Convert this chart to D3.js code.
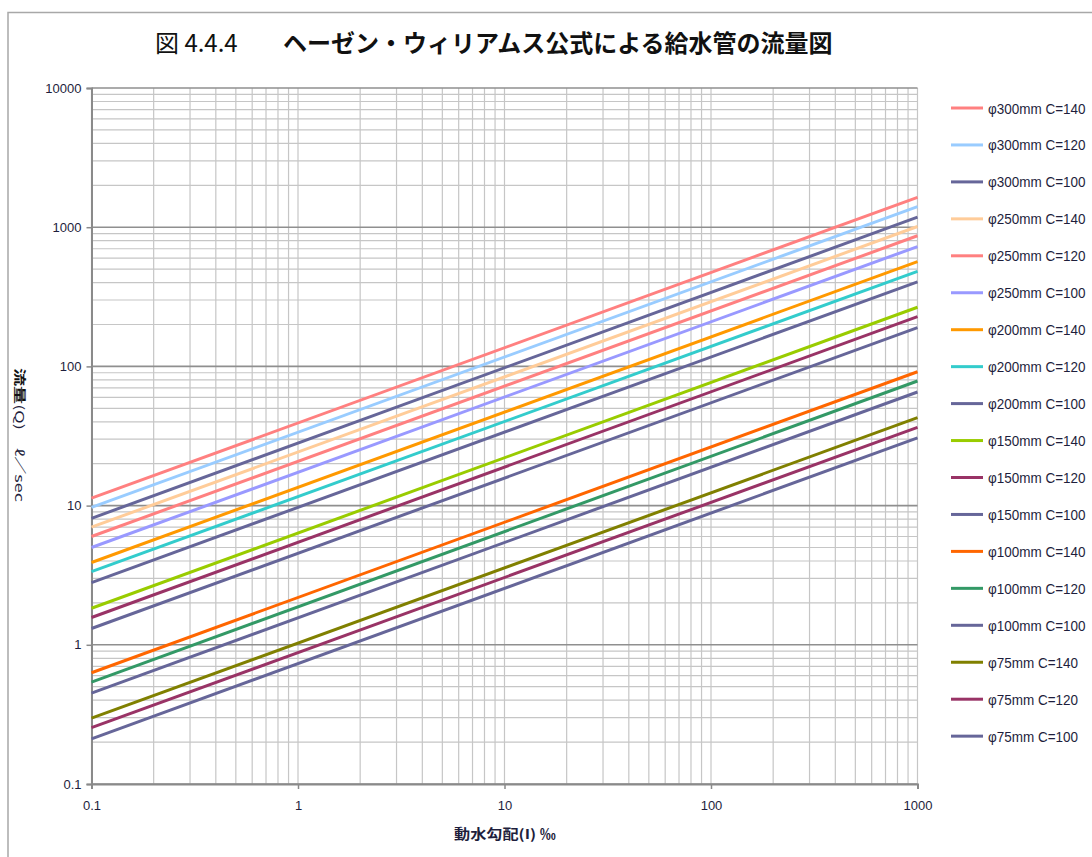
<!DOCTYPE html>
<html>
<head>
<meta charset="utf-8">
<script src="https://cdn.jsdelivr.net/npm/d3@7"></script>
<style>
  html, body { margin: 0; padding: 0; background: #ffffff; }
  svg { display: block; }
</style>
</head>
<body>
<svg id="chart" width="1092" height="857"></svg>
<script>
// Hydraulic gradient (‰) at the two ends of every flow line
const gradientEnds = [0.1, 1000];

// Series labels (pipe diameter and Hazen-Williams coefficient)
const seriesNames = [
  "φ300mm C=140", "φ300mm C=120", "φ300mm C=100",
  "φ250mm C=140", "φ250mm C=120", "φ250mm C=100",
  "φ200mm C=140", "φ200mm C=120", "φ200mm C=100",
  "φ150mm C=140", "φ150mm C=120", "φ150mm C=100",
  "φ100mm C=140", "φ100mm C=120", "φ100mm C=100",
  "φ75mm C=140", "φ75mm C=120", "φ75mm C=100"
];

// Flow (ℓ/sec) at gradient 0.1‰
const flowAtLow = [
  11.3, 9.7, 8.1,
  7.0, 6.0, 5.0,
  3.9, 3.35, 2.8,
  1.83, 1.57, 1.31,
  0.63, 0.54, 0.45,
  0.297, 0.254, 0.211
];

// Flow (ℓ/sec) at gradient 1000‰
const flowAtHigh = [
  1640, 1406, 1180,
  1012, 868, 726,
  566, 482, 405,
  266, 228, 190,
  91.5, 78.5, 65.5,
  42.8, 36.5, 30.7
];

const seriesColors = [
  "#ff8080", "#99ccff", "#666699",
  "#ffcc99", "#ff8080", "#9999ff",
  "#ff9900", "#33cccc", "#666699",
  "#99cc00", "#993366", "#666699",
  "#ff6600", "#339966", "#666699",
  "#808000", "#993366", "#666699"
];

// Axis tick labels
const xTickValues = [0.1, 1, 10, 100, 1000];
const xTickLabels = ["0.1", "1", "10", "100", "1000"];
const yTickValues = [0.1, 1, 10, 100, 1000, 10000];
const yTickLabels = ["0.1", "1", "10", "100", "1000", "10000"];

const svg = d3.select("#chart");
const plot = { left: 91.5, right: 917.5, top: 88, bottom: 784 };

const x = d3.scaleLog().domain([0.1, 1000]).range([plot.left, plot.right]);
const y = d3.scaleLog().domain([0.1, 10000]).range([plot.bottom, plot.top]);

const labelFont = "'Liberation Sans', Arial, sans-serif";
const cjkFont = "'Noto Sans CJK JP', 'Noto Sans', sans-serif";
const textColor = "#1e1e3c";

// Outer frame
svg.append("path")
  .attr("d", "M8,870 L8,12.5 L1100,12.5")
  .attr("fill", "none")
  .attr("stroke", "#a8a8a8")
  .attr("stroke-width", 1.5);

// Title
const title = svg.append("text")
  .attr("x", 155).attr("y", 52)
  .attr("font-family", cjkFont)
  .attr("font-size", 24)
  .attr("fill", "#111");
title.append("tspan").attr("font-weight", 400).text("図 4.4.4");
title.append("tspan").attr("x", 283).attr("font-weight", 700)
  .text("ヘーゼン・ウィリアムス公式による給水管の流量図");

// Grid lines: every 1..9 step of each decade
const grid = svg.append("g");
const xGrid = x.ticks();
const yGrid = y.ticks();
const isDecade = d => yTickValues.some(v => Math.abs(v - d) / v < 1e-9);

grid.selectAll("line.vx").data(xGrid).join("line")
  .attr("x1", d => x(d)).attr("x2", d => x(d))
  .attr("y1", plot.top).attr("y2", plot.bottom)
  .attr("stroke", "#c6c6c6").attr("stroke-width", 1.2);

grid.selectAll("line.hy").data(yGrid).join("line")
  .attr("x1", plot.left).attr("x2", plot.right)
  .attr("y1", d => y(d)).attr("y2", d => y(d))
  .attr("stroke", d => isDecade(d) ? "#8f8f8f" : "#c6c6c6")
  .attr("stroke-width", d => isDecade(d) ? 1.6 : 1.2);

// Axes
const xAxis = d3.axisBottom(x)
  .tickValues(xTickValues)
  .tickFormat((d, i) => xTickLabels[i])
  .tickSize(5)
  .tickPadding(12);
const yAxis = d3.axisLeft(y)
  .tickValues(yTickValues)
  .tickFormat((d, i) => yTickLabels[i])
  .tickSize(5)
  .tickPadding(5);

const gx = svg.append("g").attr("transform", `translate(0,${plot.bottom})`).call(xAxis);
const gy = svg.append("g").attr("transform", `translate(${plot.left},0)`).call(yAxis);

[gx, gy].forEach(g => {
  g.select(".domain").attr("stroke", "#8a8a8a").attr("stroke-width", 2);
  g.selectAll(".tick line").attr("stroke", "#8a8a8a").attr("stroke-width", 1.5);
  g.selectAll(".tick text")
    .attr("font-family", labelFont)
    .attr("font-size", 13)
    .attr("fill", textColor);
});

// Flow lines
const lineGen = d3.line().x(d => x(d[0])).y(d => y(d[1]));
const series = seriesNames.map((name, i) => ({
  name,
  color: seriesColors[i],
  points: [[gradientEnds[0], flowAtLow[i]], [gradientEnds[1], flowAtHigh[i]]]
}));

svg.append("g").selectAll("path").data(series).join("path")
  .attr("d", d => lineGen(d.points))
  .attr("fill", "none")
  .attr("stroke", d => d.color)
  .attr("stroke-width", 3);

// Axis titles
const yTitle = svg.append("text")
  .attr("transform", "translate(15,435) rotate(90)")
  .attr("text-anchor", "middle")
  .attr("font-family", cjkFont)
  .attr("font-size", 12)
  .attr("textLength", 134)
  .attr("lengthAdjust", "spacingAndGlyphs")
  .attr("fill", textColor);
yTitle.append("tspan").attr("font-weight", 700).attr("fill", "#111").text("流量");
yTitle.append("tspan").text("(Q)　ℓ／sec");

svg.append("text")
  .attr("x", 505).attr("y", 839)
  .attr("text-anchor", "middle")
  .attr("font-family", cjkFont)
  .attr("font-size", 13.5)
  .attr("font-weight", 700)
  .attr("textLength", 102)
  .attr("lengthAdjust", "spacingAndGlyphs")
  .attr("fill", textColor)
  .text("動水勾配(I)  ‰");

// Legend
const legend = svg.append("g");
const legendRow = 36.95;
const items = legend.selectAll("g").data(series).join("g")
  .attr("transform", (d, i) => `translate(951,${108 + i * legendRow})`);
items.append("line")
  .attr("x1", 0).attr("x2", 32)
  .attr("stroke", d => d.color)
  .attr("stroke-width", 3);
items.append("text")
  .attr("transform", "translate(37,5.5) scale(0.9,1)")
  .attr("font-family", labelFont)
  .attr("font-size", 15)
  .attr("fill", textColor)
  .text(d => d.name);
</script>
</body>
</html>
